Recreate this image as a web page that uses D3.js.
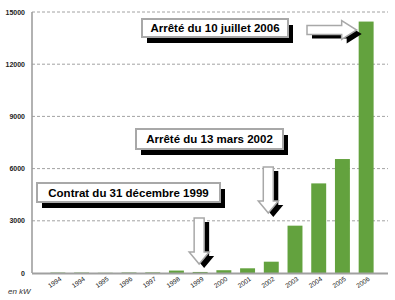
<!DOCTYPE html>
<html>
<head>
<meta charset="utf-8">
<script src="https://cdn.jsdelivr.net/npm/d3@7"></script>
<style>
  body { margin: 0; background: #fff; }
  text { font-family: "Liberation Sans", Arial, sans-serif; }
</style>
</head>
<body>
<div id="chart"></div>
<script>
// puissance raccordée, en kW
var years = ["1994", "1994", "1995", "1996", "1997", "1998", "1999", "2000", "2001", "2002", "2003", "2004", "2005", "2006"];
var power = [25, 25, 25, 30, 35, 140, 60, 160, 270, 650, 2720, 5150, 6550, 14450];
var yTicks = [0, 3000, 6000, 9000, 12000, 15000];

var notes = [
    { text: "Arrêté du 10 juillet 2006", x: 142, y: 19, w: 146, h: 18 },
    { text: "Arrêté du 13 mars 2002", x: 136, y: 129, w: 147, h: 20 },
    { text: "Contrat du 31 décembre 1999", x: 37, y: 183, w: 183, h: 19 }
];

var w = 395;
var h = 300;

var svg = d3.select("#chart")
    .append("svg")
        .attr("width", w)
        .attr("height", h);

var x = d3.scaleBand()
    .domain(d3.range(years.length))
    .range([46, 378])
    .paddingInner(0.37)
    .paddingOuter(0.185);

var y = d3.scaleLinear()
    .domain([0, 15000])
    .range([273, 12]);

// grille
svg.selectAll(".grid")
    .data(yTicks.slice(1))
    .enter()
    .append("line")
        .attr("x1", 32)
        .attr("x2", 388)
        .attr("y1", function(d){ return y(d); })
        .attr("y2", function(d){ return y(d); })
        .attr("stroke", "#8a8a8a")
        .attr("stroke-width", 0.8)
        .attr("stroke-dasharray", "3,2");

svg.selectAll(".ylab")
    .data(yTicks)
    .enter()
    .append("text")
        .attr("x", 25)
        .attr("y", function(d){ return y(d) + 2.5; })
        .attr("text-anchor", "end")
        .attr("font-size", "7px")
        .attr("font-weight", "bold")
        .attr("fill", "#222")
        .text(function(d){ return d; });

// barres
svg.selectAll("rect.bar")
    .data(power)
    .enter()
    .append("rect")
        .attr("class", "bar")
        .attr("x", function(d, i){ return x(i); })
        .attr("y", function(d){ return y(d); })
        .attr("width", x.bandwidth())
        .attr("height", function(d){ return y(0) - y(d); })
        .attr("fill", function(d, i){ return i == 2 ? "#b5d69e" : "#63a23e"; });

// axes
svg.append("line")
    .attr("x1", 32).attr("x2", 32)
    .attr("y1", y(15000)).attr("y2", y(0))
    .attr("stroke", "#999").attr("stroke-width", 1.5);
svg.append("line")
    .attr("x1", 32).attr("x2", 388)
    .attr("y1", y(0) + 0.5).attr("y2", y(0) + 0.5)
    .attr("stroke", "#a0a0a0").attr("stroke-width", 1.8);

svg.selectAll(".xlab")
    .data(years)
    .enter()
    .append("text")
        .attr("transform", function(d, i){
            return "translate(" + (x(i) + x.bandwidth() / 2 + 4) + ",280) rotate(-35)";
        })
        .attr("text-anchor", "end")
        .attr("font-size", "6.5px")
        .attr("fill", "#111")
        .text(function(d){ return d; });

svg.append("text")
    .attr("x", 8)
    .attr("y", 294)
    .attr("font-size", "8px")
    .attr("font-style", "italic")
    .attr("fill", "#333")
    .text("en kW");

// encadrés
var g = svg.selectAll(".note")
    .data(notes)
    .enter()
    .append("g");

g.append("rect")
    .attr("x", function(d){ return d.x + 5; })
    .attr("y", function(d){ return d.y + 6; })
    .attr("width", function(d){ return d.w; })
    .attr("height", function(d){ return d.h; })
    .attr("fill", "#000");
g.append("rect")
    .attr("x", function(d){ return d.x; })
    .attr("y", function(d){ return d.y; })
    .attr("width", function(d){ return d.w; })
    .attr("height", function(d){ return d.h; })
    .attr("fill", "#fff")
    .attr("stroke", "#a8a8a8")
    .attr("stroke-width", 2);
g.append("text")
    .attr("x", function(d){ return d.x + d.w / 2; })
    .attr("y", function(d){ return d.y + d.h / 2 + 4; })
    .attr("text-anchor", "middle")
    .attr("font-size", "11.5px")
    .attr("font-weight", "bold")
    .attr("fill", "#000")
    .text(function(d){ return d.text; });

// flèches
function downArrow(cx, top, tip){
    var sw = 5, hw = 10, hl = 12;
    return "M" + (cx - sw) + "," + top + "L" + (cx + sw) + "," + top +
        "L" + (cx + sw) + "," + (tip - hl) + "L" + (cx + hw) + "," + (tip - hl) +
        "L" + cx + "," + tip + "L" + (cx - hw) + "," + (tip - hl) +
        "L" + (cx - sw) + "," + (tip - hl) + "Z";
}
function rightArrow(left, tip, cy){
    var sh = 4.5, hh = 9.5, hl = 15;
    return "M" + left + "," + (cy - sh) + "L" + (tip - hl) + "," + (cy - sh) +
        "L" + (tip - hl) + "," + (cy - hh) + "L" + tip + "," + cy +
        "L" + (tip - hl) + "," + (cy + hh) + "L" + (tip - hl) + "," + (cy + sh) +
        "L" + left + "," + (cy + sh) + "Z";
}

var arrows = [
    downArrow(x(6) + x.bandwidth() / 2 - 1, 218, 264),
    downArrow(x(9) + x.bandwidth() / 2 - 3, 167, 213),
    rightArrow(307, x(13) - 2, 30)
];

svg.selectAll(".ashadow")
    .data(arrows)
    .enter()
    .append("path")
        .attr("d", function(d){ return d; })
        .attr("transform", "translate(5,4)")
        .attr("fill", "#000");

svg.selectAll(".arrow")
    .data(arrows)
    .enter()
    .append("path")
        .attr("d", function(d){ return d; })
        .attr("fill", "#fff")
        .attr("stroke", "#a8a8a8")
        .attr("stroke-width", 1.5);
</script>
</body>
</html>
